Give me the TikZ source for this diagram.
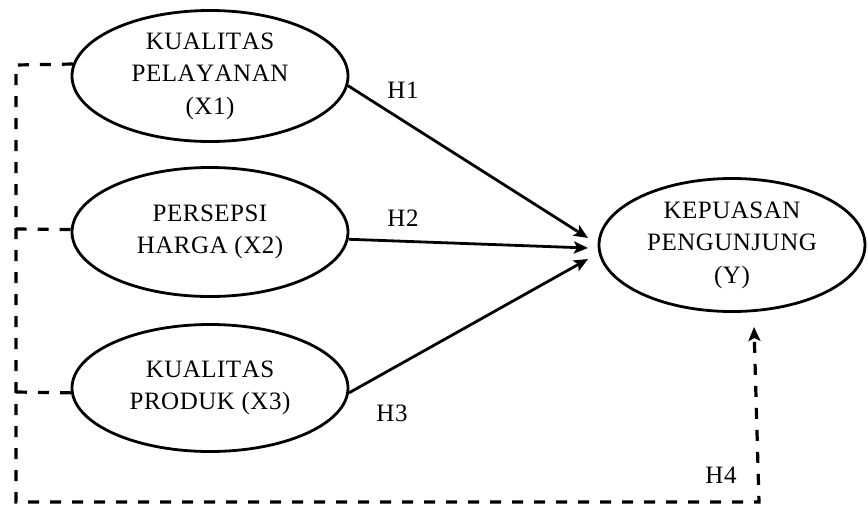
\documentclass[tikz,border=0pt]{standalone}
\usepackage{fontspec}
\setmainfont{Liberation Serif}[Kerning=Off,LetterSpace=2]
\usetikzlibrary{shapes.geometric,arrows.meta}
\begin{document}
\begin{tikzpicture}[x=1pt,y=-1pt,
  var/.style={draw,ellipse,line width=2.8pt,inner sep=0pt,align=center,
    font=\fontsize{25}{32.5}\selectfont},
  lbl/.style={font=\fontsize{25}{32.5}\selectfont,inner sep=0pt},
  path/.style={line width=2.8pt,-{Stealth[length=14pt,width=12pt,inset=3pt]}},
  dline/.style={line width=3.2pt,dash pattern=on 11pt off 11pt},
  darrow/.style={dline,-{Stealth[length=14pt,width=12pt,inset=3pt]}}]
\useasboundingbox (0,0) rectangle (868,504);
\node[var,minimum width=276pt,minimum height=131pt] (x1) at (210,76)
  {KUALITAS\\PELAYANAN\\(X1)};
\node[var,minimum width=276pt,minimum height=129pt] (x2) at (210,232)
  {PERSEPSI\\HARGA (X2)};
\node[var,minimum width=276pt,minimum height=127pt] (x3) at (210,388)
  {KUALITAS\\PRODUK (X3)};
\node[var,minimum width=266pt,minimum height=133pt] (y) at (732,245)
  {KEPUASAN\\PENGUNJUNG\\(Y)};
\coordinate (t1) at (588,238);
\coordinate (t2) at (588,248);
\coordinate (t3) at (588,259);
\draw[path] (x1.-4) -- (t1);
\draw[path] (x2.-3) -- (t2);
\draw[path] (x3.-2.5) -- (t3);
\node[lbl] (h1) at (403,90) {H1};
\node[lbl] (h2) at (403,218) {H2};
\node[lbl] (h3) at (392,413) {H3};
\node[lbl] (h4) at (721,475) {H4};
\coordinate (c1) at (16,65);
\coordinate (c2) at (16,229);
\coordinate (c3) at (16,392);
\coordinate (cb) at (16,502);
\coordinate (cr) at (759,502);
\coordinate (ty) at (754,327);
\draw[darrow] (x1.175.5) -- (c1) -- (cb) -- (cr) -- (ty);
\draw[dline] (x2.179) -- (c2);
\draw[dline] (x3.182) -- (c3);
\end{tikzpicture}
\end{document}
